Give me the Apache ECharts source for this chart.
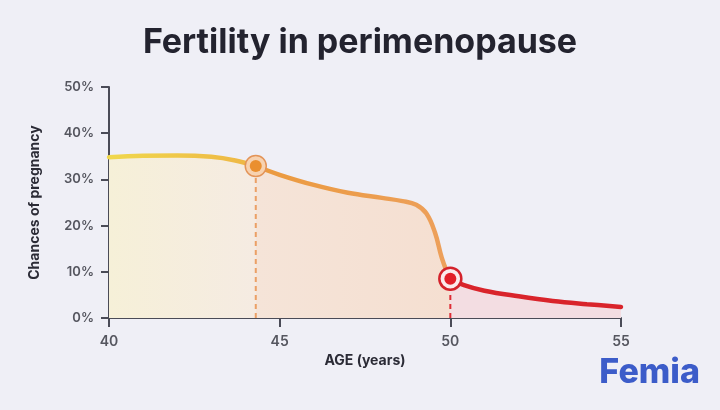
<!DOCTYPE html>
<html><head><meta charset="utf-8">
<script src="https://cdn.jsdelivr.net/npm/echarts@6/dist/echarts.min.js"></script>
<style>html,body{margin:0;padding:0;background:#efeff6;}#c{width:720px;height:410px;}</style>
</head><body><div id="c"></div>
<script>
// Data
var seg1Ages = [40, 41, 42, 43, 43.7, 44.3];
var seg1Vals = [34.8, 35.1, 35.2, 34.9, 34.1, 32.9];
var seg2Ages = [44.3, 45, 46, 47, 48, 48.6, 49, 49.3, 49.55, 49.75, 49.9, 50];
var seg2Vals = [32.9, 31.0, 28.8, 27.1, 26.0, 25.3, 24.5, 22.6, 18.5, 13.0, 10.0, 8.5];
var seg3Ages = [50, 50.4, 51, 52, 53, 54, 55];
var seg3Vals = [8.5, 7.1, 5.9, 4.7, 3.7, 3.0, 2.4];
var marker1 = [44.3, 32.9];
var marker2 = [50, 8.5];
var xTicks = [40, 45, 50, 55];
var yTicks = [0, 10, 20, 30, 40, 50];

function pairs(a, v) { return a.map(function (x, i) { return [x, v[i]]; }); }
function grad(c1, c2) { return new echarts.graphic.LinearGradient(0, 0, 1, 0, [{offset: 0, color: c1}, {offset: 1, color: c2}]); }

var chart = echarts.init(document.getElementById('c'), null, {renderer: 'canvas'});
var axisColor = '#4a4b57';
var option = {
  backgroundColor: '#efeff6',
  animation: false,
  title: {
    text: 'Fertility in perimenopause', left: 'center', top: 21,
    textStyle: {fontFamily: 'Inter', fontWeight: 700, fontSize: 34, color: '#23232f'}
  },
  grid: {left: 109, right: 99, top: 87, bottom: 92},
  xAxis: {
    type: 'value', min: 40, max: 55, interval: 5,
    name: 'AGE (years)', nameLocation: 'middle', nameGap: 29,
    nameTextStyle: {fontFamily: 'Inter', fontWeight: 700, fontSize: 14, color: '#2b2b36'},
    axisLine: {lineStyle: {color: axisColor, width: 2}},
    axisTick: {show: true, length: 9, lineStyle: {color: axisColor, width: 2}},
    axisLabel: {fontFamily: 'Inter', fontWeight: 600, fontSize: 14, color: '#55565f', margin: 17,
      formatter: function (v) { return xTicks.indexOf(v) >= 0 ? String(v) : ''; }},
    splitLine: {show: false}
  },
  yAxis: {
    type: 'value', min: 0, max: 50, interval: 10,
    name: 'Chances of pregnancy', nameLocation: 'middle', nameGap: 67, nameRotate: 90,
    nameTextStyle: {fontFamily: 'Inter', fontWeight: 700, fontSize: 14, color: '#2b2b36'},
    axisLine: {show: true, lineStyle: {color: axisColor, width: 2}},
    axisTick: {show: true, length: 8, lineStyle: {color: axisColor, width: 2}},
    axisLabel: {fontFamily: 'Inter', fontWeight: 600, fontSize: 13, color: '#55565f', margin: 15,
      formatter: function (v) { return yTicks.indexOf(v) >= 0 ? v + '%' : ''; }},
    splitLine: {show: false}
  },
  series: [
    {type: 'line', data: pairs(seg1Ages, seg1Vals), smooth: 0.4, symbol: 'none',
      lineStyle: {width: 4.5, color: grad('#f0d84c', '#eeb545'), cap: 'round'},
      areaStyle: {color: grad('#f6f0d8', '#f5ebe2'), opacity: 1}, z: 3},
    {type: 'line', data: pairs(seg2Ages, seg2Vals), smooth: 0.4, symbol: 'none',
      lineStyle: {width: 4.5, color: grad('#eb9a3d', '#eda05c'), cap: 'round'},
      areaStyle: {color: grad('#f5e4d8', '#f5dfd1'), opacity: 1}, z: 3},
    {type: 'line', data: pairs(seg3Ages, seg3Vals), smooth: 0.4, symbol: 'none',
      lineStyle: {width: 4.5, color: '#d9242b', cap: 'round'},
      areaStyle: {color: '#f3dde2', opacity: 1}, z: 3},
    {type: 'line', data: [[marker1[0], 0], marker1], symbol: 'none', silent: true,
      lineStyle: {width: 2, type: [5, 4], color: '#eba066'}, z: 4},
    {type: 'line', data: [[marker2[0], 0], marker2], symbol: 'none', silent: true,
      lineStyle: {width: 2, type: [5, 4], color: '#dd2c36'}, z: 4},
    {type: 'scatter', data: [marker1], symbolSize: 21, silent: true,
      itemStyle: {color: '#f7d2b0', borderColor: '#e39458', borderWidth: 1.5, opacity: 1}, z: 5},
    {type: 'scatter', data: [marker1], symbolSize: 12, silent: true,
      itemStyle: {color: '#ea8f2f', opacity: 1}, z: 6},
    {type: 'scatter', data: [marker2], symbolSize: 22, silent: true,
      itemStyle: {color: '#fbeaec', borderColor: '#d4222b', borderWidth: 2.5, opacity: 1}, z: 5},
    {type: 'scatter', data: [marker2], symbolSize: 12, silent: true,
      itemStyle: {color: '#e21f29', opacity: 1}, z: 6}
  ],
  graphic: [
    {type: 'text', right: 20, top: 356,
      style: {text: 'Femia', fontFamily: 'Inter', fontWeight: 800, fontSize: 34, fill: '#3c5cc9'}}
  ]
};
chart.setOption(option);
</script>
</body></html>
